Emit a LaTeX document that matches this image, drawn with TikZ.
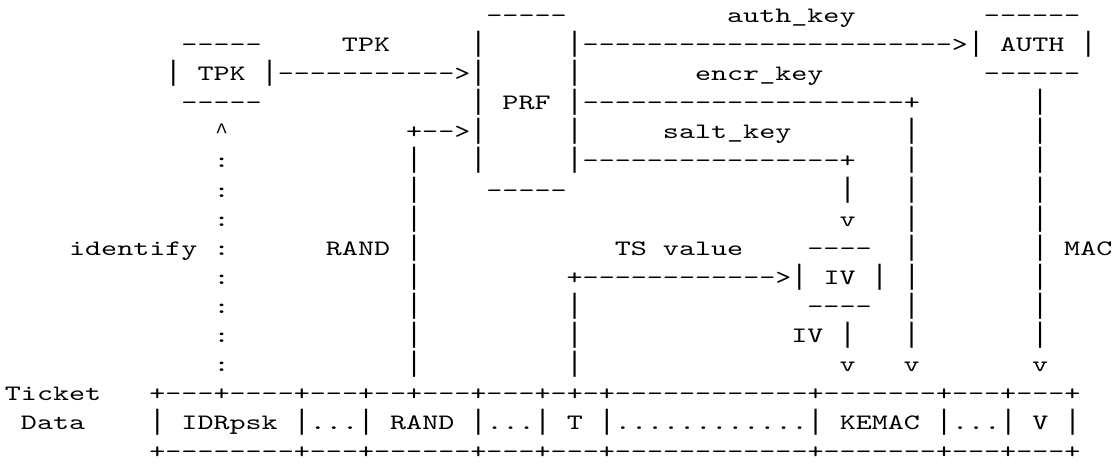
\documentclass[tikz,border=0pt]{standalone}
\usepackage{fontspec}
\setmonofont{lmmono10-regular}[Extension=.otf,FakeStretch=1.39]
\newfontfamily\barfont{Liberation Mono}[FakeStretch=0.956]
\def\vbar{{\barfont\fontsize{14}{16}\selectfont\symbol{124}}}
\def\caret{\makebox[8.03pt]{\barfont\fontsize{11}{13}\selectfont\textasciicircum}}
\tikzset{art/.style={font=\ttfamily\fontsize{11}{13}\selectfont, anchor=base west, inner sep=0pt}}
% column / row of the character grid
\def\ascii[#1](#2,#3)#4{\node[art] (#1) at ({4.5+16.05*#2},{22.4+29.1*#3}) {#4};}

\begin{document}
\catcode`\|=\active \let|\vbar
\begin{tikzpicture}[x=0.5pt, y=-0.5pt]
	\useasboundingbox (0,0) rectangle (1114,463);
	%%%%% START %%%%%

	\ascii[prfTop](30,0){-----}
	\ascii[authLbl](45,0){auth\_key}
	\ascii[authTop](61,0){------}

	\ascii[tpkTop](11,1){-----}
	\ascii[tpkLbl](21,1){TPK}
	\ascii[prfL1](29,1){|}
	\ascii[authArr](35,1){|----------------------->| AUTH |}

	\ascii[tpkBox](10,2){| TPK |----------->|}
	\ascii[prfR2](35,2){|}
	\ascii[encrLbl](43,2){encr\_key}
	\ascii[authBot](61,2){------}

	\ascii[tpkBot](11,3){-----}
	\ascii[prfBox](29,3){| PRF |--------------------+}

	\ascii[idUp](13,4){\caret}
	\ascii[randIn](25,4){+-->|}
	\ascii[prfR4](35,4){|}
	\ascii[saltLbl](41,4){salt\_key}

	\ascii[prfL5](29,5){|}
	\ascii[saltArr](35,5){|----------------+}

	\ascii[prfBot](30,6){-----}
	\ascii[saltV](52,6){|}
	\ascii[saltIn](52,7){v}

	\ascii[idLbl](4,8){identify :}
	\ascii[randLbl](20,8){RAND |}
	\ascii[tsLbl](38,8){TS value}
	\ascii[ivTop](50,8){----}
	\ascii[macLbl](64,8){| MAC}

	\ascii[tsArr](35,9){+------------>| IV | |}
	\ascii[ivBot](50,10){----}
	\ascii[ivLbl](49,11){IV |}

	\ascii[ivOut](52,12){v}
	\ascii[encrOut](56,12){v}
	\ascii[macOut](64,12){v}

	% vertical runs
	\foreach \r in {5,6,7,9,10,11,12} {
		\ascii[idV\r](13,\r){:}
		\ascii[randV\r](25,\r){|}
	}
	\foreach \r in {10,11,12} {\ascii[tsV\r](35,\r){|}}
	\foreach \r in {4,5,6,7,8,10,11} {\ascii[encrV\r](56,\r){|}}
	\foreach \r in {3,4,5,6,7,9,10,11} {\ascii[macV\r](64,\r){|}}

	% ticket data
	\ascii[ticketLbl](0,13){Ticket}
	\ascii[ticketTop](9,13){+---+----+---+--+---+---+-+-+------------+-------+---+---+}
	\ascii[dataLbl](1,14){Data}
	\ascii[ticketMid](9,14){| IDRpsk |...| RAND |...| T |............| KEMAC |...| V |}
	\ascii[ticketBot](9,15){+--------+---+------+---+---+------------+-------+---+---+}

	%%%%% END %%%%%
\end{tikzpicture}
\end{document}
